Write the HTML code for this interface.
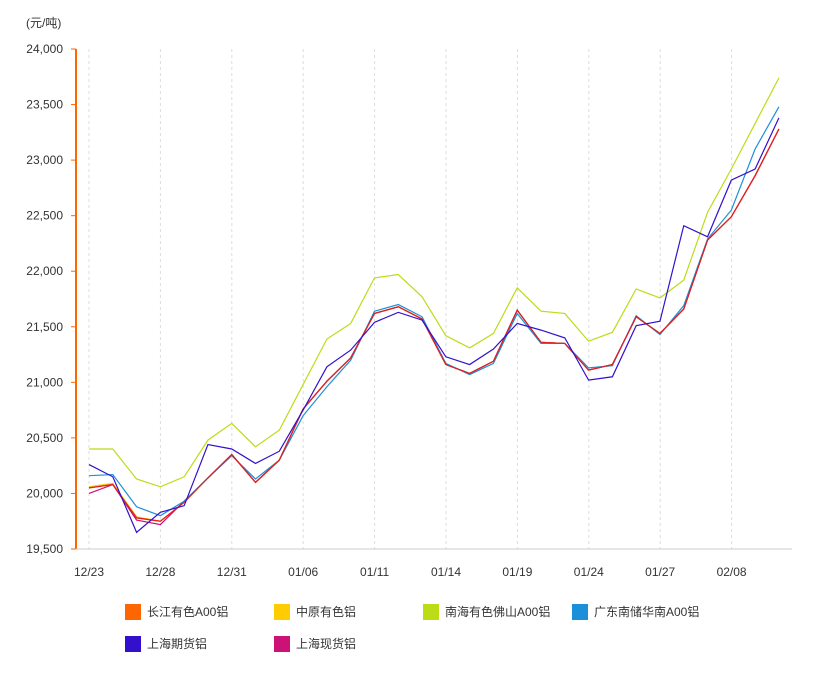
<!DOCTYPE html>
<html><head><meta charset="utf-8"><style>
body{margin:0;background:#fff;font-family:"Liberation Sans","Noto Sans CJK SC",sans-serif;}
svg text{font-family:"Liberation Sans","Noto Sans CJK SC",sans-serif;font-size:12px;fill:#333;}
</style></head><body>
<svg id="s" width="821" height="675" xmlns="http://www.w3.org/2000/svg">
<text x="26" y="27">(元/吨)</text>
</svg>
<script>
const s=document.getElementById('s');const NS='http://www.w3.org/2000/svg';
function el(t,a,txt){const e=document.createElementNS(NS,t);for(const k in a)e.setAttribute(k,a[k]);if(txt)e.textContent=txt;s.appendChild(e);return e;}
const Y=v=>549-(v-19500)*0.111111, X=i=>89+i*23.79;
// vertical dashed grid
for(let i=0;i<10;i++){const x=89+i*71.4;el('line',{x1:x,y1:49,x2:x,y2:549,stroke:'#ddd','stroke-dasharray':'3,3'});
 el('text',{x:x,y:576,'text-anchor':'middle'},['12/23','12/28','12/31','01/06','01/11','01/14','01/19','01/24','01/27','02/08'][i]);}
for(let v=19500;v<=24000;v+=500){const y=Y(v);el('line',{x1:71,y1:y,x2:76,y2:y,stroke:'#f60'});
 el('text',{x:63,y:y+4,'text-anchor':'end'},v.toLocaleString('en-US'));}
el('line',{x1:76,y1:49,x2:76,y2:549,stroke:'#f60','stroke-width':2});
el('line',{x1:76,y1:549,x2:792,y2:549,stroke:'#ccc'});
const red=[20050,20080,19780,19750,19920,20140,20350,20100,20300,20760,21010,21220,21620,21680,21570,21160,21080,21190,21650,21360,21350,21110,21160,21590,21440,21660,22280,22490,22860,23280];
const data=[
['#bcdc18',[20400,20400,20130,20060,20150,20480,20630,20420,20570,20980,21390,21530,21940,21970,21770,21420,21310,21440,21850,21640,21620,21370,21450,21840,21760,21920,22530,22920,23330,23740]],
['#ffcc00',red.map((v,i)=>v+(i<3?10:0))],
['#ff6600',red],
['#cc1177',[20000,20080,19760,19720,19930].concat(red.slice(5))],
['#1b90d8',[20160,20170,19880,19800,19930,20140,20340,20130,20300,20700,20960,21200,21640,21700,21590,21170,21070,21170,21620,21350,21350,21130,21150,21600,21430,21690,22290,22550,23100,23480]],
['#dd2222',red.map((v,i)=>i>=26?v:v)],
['#3311cc',[20260,20150,19650,19830,19890,20440,20400,20270,20380,20750,21140,21290,21540,21630,21560,21230,21160,21300,21530,21470,21400,21020,21050,21510,21550,22410,22310,22820,22920,23380]]];
for(const [c,d] of data)el('polyline',{points:d.map((v,i)=>X(i)+','+Y(v)).join(' '),fill:'none',stroke:c,'stroke-width':1.2});
const lg=[['#ff6600','长江有色A00铝',125,612],['#ffcc00','中原有色铝',274,612],['#bcdc18','南海有色佛山A00铝',423,612],['#1b90d8','广东南储华南A00铝',572,612],['#3311cc','上海期货铝',125,644],['#cc1177','上海现货铝',274,644]];
for(const [c,t,x,y] of lg){el('rect',{x:x,y:y-8,width:16,height:16,fill:c});el('text',{x:x+22,y:y+4},t);}
</script>
</body></html>
